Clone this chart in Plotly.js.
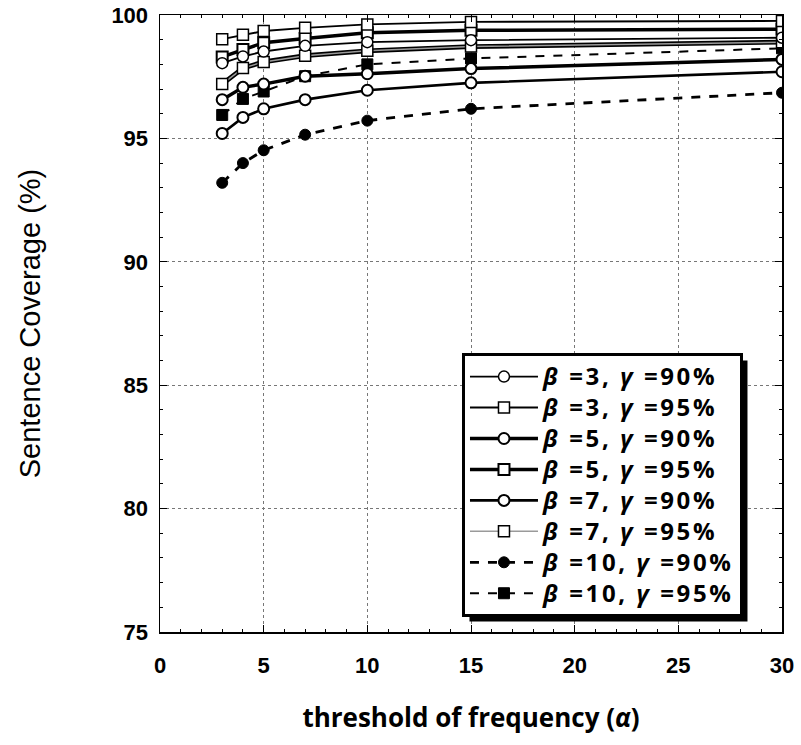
<!DOCTYPE html>
<html>
<head>
<meta charset="utf-8">
<script src="https://cdn.plot.ly/plotly-3.0.1.min.js"></script>
<style>html,body{margin:0;padding:0;background:#fff;}#chart{width:801px;height:745px;}</style>
</head>
<body>
<div id="chart"></div>
<script>
// threshold of frequency (alpha)
const alpha = [3, 4, 5, 7, 10, 15, 30];

// Sentence coverage (%) per series
const b3g90  = [98.05, 98.32, 98.52, 98.75, 98.90, 98.98, 99.08];
const b3g95  = [99.02, 99.20, 99.35, 99.48, 99.62, 99.72, 99.76];
const b5g90  = [96.57, 97.07, 97.20, 97.52, 97.62, 97.83, 98.20];
const b5g95  = [98.30, 98.60, 98.88, 99.05, 99.28, 99.38, 99.42];
const b7g90  = [95.20, 95.85, 96.20, 96.57, 96.95, 97.25, 97.70];
const b7g95  = [97.20, 97.85, 98.10, 98.35, 98.55, 98.72, 98.90];
const b10g90 = [93.20, 94.00, 94.52, 95.15, 95.72, 96.20, 96.85];
const b10g95 = [95.95, 96.60, 96.90, 97.52, 98.00, 98.24, 98.65];

const betas = ['3', '3', '5', '5', '7', '7', '10', '10'];
const gammas = ['90', '95', '90', '95', '90', '95', '90', '95'];
const names = betas.map((b, i) =>
  '<span style="font-size:24px;letter-spacing:2.6px"><i>β</i> =' + b + ', <i>γ</i> =' + gammas[i] + '%</span>');

function tr(y, name, lw, dash, sym, fill, mlw) {
  return {
    x: alpha, y: y, name: name, type: 'scatter', mode: 'lines+markers',
    line: {color: '#000', width: lw, dash: dash},
    marker: {symbol: sym, size: 11, color: fill, line: {color: '#000', width: mlw}}
  };
}

const under7 = {
  x: alpha, y: b7g95, type: 'scatter', mode: 'lines', showlegend: false,
  hoverinfo: 'skip', line: {color: '#000', width: 4.8}
};

const data = [
  tr(b10g90, names[6], 2.8, 'dash', 'circle', '#000', 1),
  tr(b10g95, names[7], 2, 'dash', 'square', '#000', 1),
  tr(b7g90,  names[4], 2.6, 'solid', 'circle', '#fff', 2),
  under7,
  tr(b7g95,  names[5], 1.5, 'solid', 'square', '#fff', 1.5),
  tr(b5g90,  names[2], 3.5, 'solid', 'circle', '#fff', 2),
  tr(b5g95,  names[3], 3.5, 'solid', 'square', '#fff', 2),
  tr(b3g90,  names[0], 1.9, 'solid', 'circle', '#fff', 1.5),
  tr(b3g95,  names[1], 1.9, 'solid', 'square', '#fff', 1.5)
];
data[4].line.color = '#9a9a9a';

const tickFont = {family: 'Liberation Sans, Arial, sans-serif', size: 22, color: '#000', weight: 'bold'};

const layout = {
  width: 801, height: 745,
  margin: {l: 160, r: 19, t: 15, b: 113},
  paper_bgcolor: '#fff', plot_bgcolor: '#fff',
  showlegend: true,
  legend: {
    traceorder: 'normal',
    x: 0.4855, y: 0.452, xanchor: 'left', yanchor: 'top',
    bgcolor: '#fff', bordercolor: '#000', borderwidth: 3,
    font: {family: 'Open Sans, sans-serif', size: 21.5, color: '#000', weight: 'bold'},
    itemwidth: 68
  },
  shapes: [],
  xaxis: {
    range: [0, 30], dtick: 5, tick0: 0,
    showline: true, linecolor: '#000', linewidth: 1.5, mirror: 'ticks',
    ticks: 'inside', ticklen: 7, tickcolor: '#000',
    showgrid: true, gridcolor: '#777', griddash: 'dot', gridwidth: 1,
    zeroline: false,
    minor: {dtick: 1, ticks: 'inside', ticklen: 3, tickcolor: '#000', showgrid: false},
    tickfont: tickFont, ticklabelstandoff: 13,
    title: {text: 'threshold of frequency (<i>α</i>)', standoff: 32,
      font: {family: 'Open Sans, sans-serif', size: 26, color: '#000', weight: 'bold'}}
  },
  yaxis: {
    range: [75, 100], dtick: 5, tick0: 75,
    showline: true, linecolor: '#000', linewidth: 1.5, mirror: 'ticks',
    ticks: 'inside', ticklen: 7, tickcolor: '#000',
    showgrid: true, gridcolor: '#777', griddash: 'dot', gridwidth: 1,
    zeroline: false,
    minor: {dtick: 1, ticks: 'inside', ticklen: 3, tickcolor: '#000', showgrid: false},
    tickfont: tickFont, ticklabelstandoff: 6,
    title: {text: 'Sentence Coverage (%)', standoff: 62,
      font: {family: 'Liberation Sans, Arial, sans-serif', size: 29, color: '#000'}}
  }
};

data.forEach(t => { if (t.name) t.legendrank = names.indexOf(t.name) + 1; });

const gd = document.getElementById('chart');
Plotly.newPlot(gd, data, layout, {displayModeBar: false, staticPlot: true}).then(() => {
  // drop shadow behind the legend box, placed from the legend's drawn size
  const bg = gd.querySelector('.legend .bg');
  if (!bg) return;
  const r = bg.getBoundingClientRect();
  const g = gd.getBoundingClientRect();
  const fl = gd._fullLayout;
  const off = 6;
  const px = v => (v - g.left - fl._size.l) / fl._size.w;
  const py = v => 1 - (v - g.top - fl._size.t) / fl._size.h;
  return Plotly.relayout(gd, {shapes: [{
    type: 'rect', xref: 'paper', yref: 'paper', layer: 'above',
    x0: px(r.left + off), x1: px(r.right + off),
    y0: py(r.bottom + off), y1: py(r.top + off),
    fillcolor: '#000', line: {width: 0}
  }]});
});
</script>
</body>
</html>
